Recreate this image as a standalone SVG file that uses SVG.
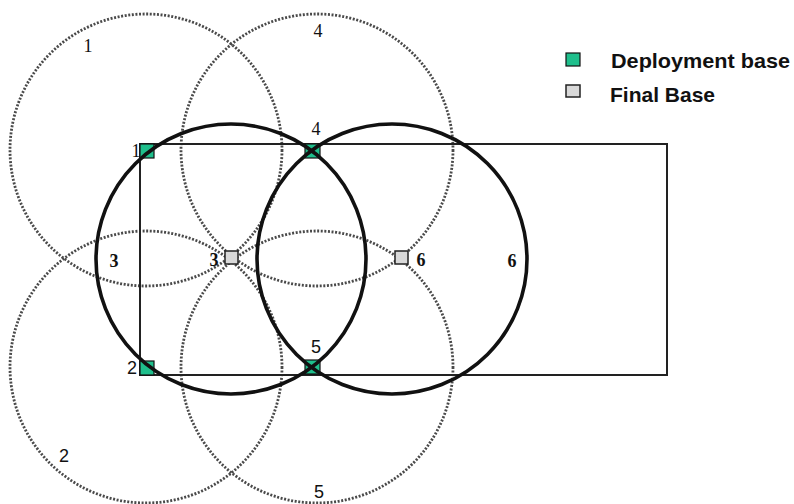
<svg xmlns="http://www.w3.org/2000/svg" width="794" height="504" viewBox="0 0 794 504">
<defs>
<style>
.dot{fill:none;stroke:#4a4a4a;stroke-width:2.8;stroke-dasharray:2 1.6}
.bold{fill:none;stroke:#111;stroke-width:3.6}
.rect{fill:none;stroke:#222;stroke-width:2}
.dep{fill:#1fbf8c;stroke:#111;stroke-width:1.2}
.fin{fill:#d9d9d9;stroke:#222;stroke-width:1.5}
.ser{font-family:"Liberation Serif",serif;font-size:18px;fill:#111}
.san{font-family:"Liberation Sans",sans-serif;font-size:18px;fill:#111}
.bn{font-family:"Liberation Serif",serif;font-size:18px;font-weight:bold;fill:#111}
.leg{font-family:"Liberation Sans",sans-serif;font-size:21px;font-weight:bold;fill:#111}
</style>
</defs>
<rect width="794" height="504" fill="#fff"/>
<g id="coverage">
<circle class="dot" cx="146" cy="150" r="136"/>
<circle class="dot" cx="146" cy="367" r="136"/>
<circle class="dot" cx="317" cy="150" r="136"/>
<circle class="dot" cx="317" cy="367" r="136"/>
<text class="ser" x="88" y="52" text-anchor="middle">1</text>
<text class="ser" x="318" y="37" text-anchor="middle">4</text>
<text class="san" x="64" y="462" text-anchor="middle">2</text>
<text class="san" x="319" y="498" text-anchor="middle">5</text>
</g>
<g id="connectors">
<rect class="rect" x="140" y="144" width="527" height="231"/>
</g>
<g id="base1"><rect class="dep" x="140" y="144" width="14" height="14"/><text class="ser" x="136" y="157" text-anchor="middle">1</text></g>
<g id="base4"><rect class="dep" x="305" y="144" width="15" height="14"/><text class="ser" x="316" y="135" text-anchor="middle">4</text></g>
<g id="base2"><rect class="dep" x="140" y="361" width="14" height="14"/><text class="san" x="132" y="374" text-anchor="middle">2</text></g>
<g id="base5"><rect class="dep" x="305" y="360" width="15" height="14"/><text class="san" x="316" y="353" text-anchor="middle">5</text></g>
<g id="final3"><rect class="fin" x="225" y="251" width="13" height="13"/><text class="bn" x="214" y="266" text-anchor="middle">3</text></g>
<g id="final6"><rect class="fin" x="395" y="251" width="13" height="13"/><text class="bn" x="421" y="266" text-anchor="middle">6</text></g>
<g id="range3"><circle class="bold" cx="231" cy="259" r="135"/><text class="bn" x="114" y="267" text-anchor="middle">3</text></g>
<g id="range6"><circle class="bold" cx="392" cy="259" r="135"/><text class="bn" x="512" y="267" text-anchor="middle">6</text></g>
<g id="legend">
<rect class="dep" x="566" y="53" width="14" height="13"/>
<text class="leg" x="611" y="68" textLength="179" lengthAdjust="spacingAndGlyphs">Deployment base</text>
<rect class="fin" x="566" y="85" width="14" height="12"/>
<text class="leg" x="610" y="102" textLength="105" lengthAdjust="spacingAndGlyphs">Final Base</text>
</g>
</svg>
